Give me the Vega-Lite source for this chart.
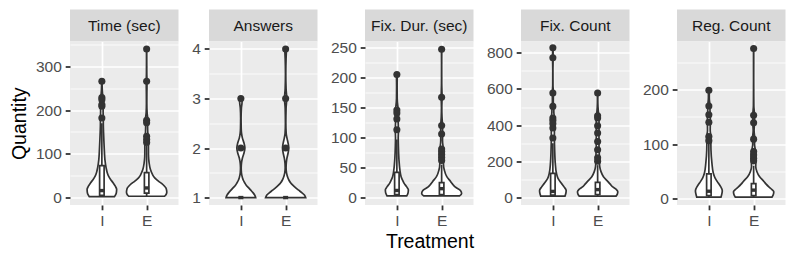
{
"$schema": "https://vega.github.io/schema/vega-lite/v6.json",
"padding": {"left": 9, "top": 9.5, "right": 5, "bottom": 5},
"background": "#FFFFFF",
"spacing": 12,
"align": "none",
"datasets": {
"vio": [
{"panel":"time","trt":"I","value":2,"left":0.72,"right":1.28},
{"panel":"time","trt":"I","value":6,"left":0.695,"right":1.305},
{"panel":"time","trt":"I","value":12,"left":0.675,"right":1.325},
{"panel":"time","trt":"I","value":19,"left":0.67,"right":1.33},
{"panel":"time","trt":"I","value":26,"left":0.70,"right":1.30},
{"panel":"time","trt":"I","value":34,"left":0.75,"right":1.25},
{"panel":"time","trt":"I","value":41.5,"left":0.805,"right":1.195},
{"panel":"time","trt":"I","value":49,"left":0.85,"right":1.15},
{"panel":"time","trt":"I","value":57,"left":0.88,"right":1.12},
{"panel":"time","trt":"I","value":68,"left":0.905,"right":1.095},
{"panel":"time","trt":"I","value":87,"left":0.932,"right":1.068},
{"panel":"time","trt":"I","value":110,"left":0.946,"right":1.054},
{"panel":"time","trt":"I","value":130,"left":0.955,"right":1.045},
{"panel":"time","trt":"I","value":150,"left":0.963,"right":1.037},
{"panel":"time","trt":"I","value":170,"left":0.968,"right":1.032},
{"panel":"time","trt":"I","value":182,"left":0.967,"right":1.033},
{"panel":"time","trt":"I","value":195,"left":0.972,"right":1.028},
{"panel":"time","trt":"I","value":210,"left":0.97,"right":1.03},
{"panel":"time","trt":"I","value":222,"left":0.97,"right":1.03},
{"panel":"time","trt":"I","value":230,"left":0.978,"right":1.022},
{"panel":"time","trt":"I","value":245,"left":0.99,"right":1.01},
{"panel":"time","trt":"I","value":256,"left":0.994,"right":1.006},
{"panel":"time","trt":"I","value":266,"left":0.995,"right":1.005},
{"panel":"time","trt":"E","value":3,"left":1.60,"right":2.40},
{"panel":"time","trt":"E","value":7,"left":1.565,"right":2.435},
{"panel":"time","trt":"E","value":12,"left":1.55,"right":2.45},
{"panel":"time","trt":"E","value":17,"left":1.555,"right":2.445},
{"panel":"time","trt":"E","value":22,"left":1.57,"right":2.43},
{"panel":"time","trt":"E","value":27,"left":1.61,"right":2.39},
{"panel":"time","trt":"E","value":32,"left":1.66,"right":2.34},
{"panel":"time","trt":"E","value":37,"left":1.73,"right":2.27},
{"panel":"time","trt":"E","value":42,"left":1.79,"right":2.21},
{"panel":"time","trt":"E","value":47,"left":1.835,"right":2.165},
{"panel":"time","trt":"E","value":53,"left":1.87,"right":2.13},
{"panel":"time","trt":"E","value":64,"left":1.915,"right":2.085},
{"panel":"time","trt":"E","value":79,"left":1.944,"right":2.056},
{"panel":"time","trt":"E","value":94,"left":1.958,"right":2.042},
{"panel":"time","trt":"E","value":110,"left":1.96,"right":2.04},
{"panel":"time","trt":"E","value":122,"left":1.96,"right":2.04},
{"panel":"time","trt":"E","value":130,"left":1.958,"right":2.042},
{"panel":"time","trt":"E","value":138,"left":1.962,"right":2.038},
{"panel":"time","trt":"E","value":150,"left":1.975,"right":2.025},
{"panel":"time","trt":"E","value":162,"left":1.978,"right":2.022},
{"panel":"time","trt":"E","value":172,"left":1.97,"right":2.03},
{"panel":"time","trt":"E","value":180,"left":1.974,"right":2.026},
{"panel":"time","trt":"E","value":195,"left":1.99,"right":2.01},
{"panel":"time","trt":"E","value":215,"left":1.995,"right":2.005},
{"panel":"time","trt":"E","value":240,"left":1.994,"right":2.006},
{"panel":"time","trt":"E","value":255,"left":1.992,"right":2.008},
{"panel":"time","trt":"E","value":266,"left":1.992,"right":2.008},
{"panel":"time","trt":"E","value":285,"left":1.996,"right":2.004},
{"panel":"time","trt":"E","value":310,"left":1.997,"right":2.003},
{"panel":"time","trt":"E","value":340,"left":1.997,"right":2.003},
{"panel":"ans","trt":"I","value":1.00,"left":0.67,"right":1.33},
{"panel":"ans","trt":"I","value":1.05,"left":0.69,"right":1.31},
{"panel":"ans","trt":"I","value":1.10,"left":0.73,"right":1.27},
{"panel":"ans","trt":"I","value":1.15,"left":0.78,"right":1.22},
{"panel":"ans","trt":"I","value":1.20,"left":0.83,"right":1.17},
{"panel":"ans","trt":"I","value":1.25,"left":0.88,"right":1.12},
{"panel":"ans","trt":"I","value":1.30,"left":0.915,"right":1.085},
{"panel":"ans","trt":"I","value":1.35,"left":0.945,"right":1.055},
{"panel":"ans","trt":"I","value":1.40,"left":0.965,"right":1.035},
{"panel":"ans","trt":"I","value":1.50,"left":0.987,"right":1.013},
{"panel":"ans","trt":"I","value":1.60,"left":0.992,"right":1.008},
{"panel":"ans","trt":"I","value":1.70,"left":0.985,"right":1.015},
{"panel":"ans","trt":"I","value":1.80,"left":0.965,"right":1.035},
{"panel":"ans","trt":"I","value":1.90,"left":0.93,"right":1.07},
{"panel":"ans","trt":"I","value":2.00,"left":0.91,"right":1.09},
{"panel":"ans","trt":"I","value":2.10,"left":0.93,"right":1.07},
{"panel":"ans","trt":"I","value":2.20,"left":0.965,"right":1.035},
{"panel":"ans","trt":"I","value":2.30,"left":0.985,"right":1.015},
{"panel":"ans","trt":"I","value":2.40,"left":0.992,"right":1.008},
{"panel":"ans","trt":"I","value":2.60,"left":0.995,"right":1.005},
{"panel":"ans","trt":"I","value":2.80,"left":0.988,"right":1.012},
{"panel":"ans","trt":"I","value":2.90,"left":0.975,"right":1.025},
{"panel":"ans","trt":"I","value":3.00,"left":0.97,"right":1.03},
{"panel":"ans","trt":"E","value":1.00,"left":1.553,"right":2.447},
{"panel":"ans","trt":"E","value":1.05,"left":1.58,"right":2.42},
{"panel":"ans","trt":"E","value":1.10,"left":1.64,"right":2.36},
{"panel":"ans","trt":"E","value":1.15,"left":1.71,"right":2.29},
{"panel":"ans","trt":"E","value":1.20,"left":1.78,"right":2.22},
{"panel":"ans","trt":"E","value":1.25,"left":1.84,"right":2.16},
{"panel":"ans","trt":"E","value":1.30,"left":1.89,"right":2.11},
{"panel":"ans","trt":"E","value":1.35,"left":1.925,"right":2.075},
{"panel":"ans","trt":"E","value":1.40,"left":1.95,"right":2.05},
{"panel":"ans","trt":"E","value":1.50,"left":1.98,"right":2.02},
{"panel":"ans","trt":"E","value":1.60,"left":1.99,"right":2.01},
{"panel":"ans","trt":"E","value":1.70,"left":1.985,"right":2.015},
{"panel":"ans","trt":"E","value":1.80,"left":1.97,"right":2.03},
{"panel":"ans","trt":"E","value":1.90,"left":1.945,"right":2.055},
{"panel":"ans","trt":"E","value":2.00,"left":1.93,"right":2.07},
{"panel":"ans","trt":"E","value":2.10,"left":1.945,"right":2.055},
{"panel":"ans","trt":"E","value":2.20,"left":1.97,"right":2.03},
{"panel":"ans","trt":"E","value":2.30,"left":1.988,"right":2.012},
{"panel":"ans","trt":"E","value":2.50,"left":1.995,"right":2.005},
{"panel":"ans","trt":"E","value":2.80,"left":1.99,"right":2.01},
{"panel":"ans","trt":"E","value":3.00,"left":1.975,"right":2.025},
{"panel":"ans","trt":"E","value":3.20,"left":1.99,"right":2.01},
{"panel":"ans","trt":"E","value":3.50,"left":1.996,"right":2.004},
{"panel":"ans","trt":"E","value":3.80,"left":1.99,"right":2.01},
{"panel":"ans","trt":"E","value":4.00,"left":1.98,"right":2.02},
{"panel":"fdur","trt":"I","value":3,"left":0.78,"right":1.22},
{"panel":"fdur","trt":"I","value":8,"left":0.75,"right":1.25},
{"panel":"fdur","trt":"I","value":13,"left":0.743,"right":1.257},
{"panel":"fdur","trt":"I","value":18,"left":0.78,"right":1.22},
{"panel":"fdur","trt":"I","value":23,"left":0.83,"right":1.17},
{"panel":"fdur","trt":"I","value":28,"left":0.865,"right":1.135},
{"panel":"fdur","trt":"I","value":35,"left":0.905,"right":1.095},
{"panel":"fdur","trt":"I","value":46,"left":0.932,"right":1.068},
{"panel":"fdur","trt":"I","value":63,"left":0.953,"right":1.047},
{"panel":"fdur","trt":"I","value":85,"left":0.966,"right":1.034},
{"panel":"fdur","trt":"I","value":100,"left":0.97,"right":1.03},
{"panel":"fdur","trt":"I","value":112,"left":0.965,"right":1.035},
{"panel":"fdur","trt":"I","value":125,"left":0.97,"right":1.03},
{"panel":"fdur","trt":"I","value":132,"left":0.965,"right":1.035},
{"panel":"fdur","trt":"I","value":142,"left":0.962,"right":1.038},
{"panel":"fdur","trt":"I","value":150,"left":0.975,"right":1.025},
{"panel":"fdur","trt":"I","value":165,"left":0.992,"right":1.008},
{"panel":"fdur","trt":"I","value":185,"left":0.994,"right":1.006},
{"panel":"fdur","trt":"I","value":198,"left":0.992,"right":1.008},
{"panel":"fdur","trt":"I","value":205,"left":0.99,"right":1.01},
{"panel":"fdur","trt":"E","value":3,"left":1.60,"right":2.40},
{"panel":"fdur","trt":"E","value":7,"left":1.554,"right":2.446},
{"panel":"fdur","trt":"E","value":12,"left":1.58,"right":2.42},
{"panel":"fdur","trt":"E","value":18,"left":1.70,"right":2.30},
{"panel":"fdur","trt":"E","value":23,"left":1.76,"right":2.24},
{"panel":"fdur","trt":"E","value":27,"left":1.80,"right":2.20},
{"panel":"fdur","trt":"E","value":35,"left":1.885,"right":2.115},
{"panel":"fdur","trt":"E","value":46,"left":1.94,"right":2.06},
{"panel":"fdur","trt":"E","value":57,"left":1.96,"right":2.04},
{"panel":"fdur","trt":"E","value":65,"left":1.955,"right":2.045},
{"panel":"fdur","trt":"E","value":72,"left":1.952,"right":2.048},
{"panel":"fdur","trt":"E","value":80,"left":1.96,"right":2.04},
{"panel":"fdur","trt":"E","value":95,"left":1.98,"right":2.02},
{"panel":"fdur","trt":"E","value":106,"left":1.978,"right":2.022},
{"panel":"fdur","trt":"E","value":120,"left":1.98,"right":2.02},
{"panel":"fdur","trt":"E","value":135,"left":1.992,"right":2.008},
{"panel":"fdur","trt":"E","value":150,"left":1.996,"right":2.004},
{"panel":"fdur","trt":"E","value":167,"left":1.99,"right":2.01},
{"panel":"fdur","trt":"E","value":190,"left":1.997,"right":2.003},
{"panel":"fdur","trt":"E","value":220,"left":1.998,"right":2.002},
{"panel":"fdur","trt":"E","value":247,"left":1.996,"right":2.004},
{"panel":"fcnt","trt":"I","value":9,"left":0.73,"right":1.27},
{"panel":"fcnt","trt":"I","value":25,"left":0.71,"right":1.29},
{"panel":"fcnt","trt":"I","value":40,"left":0.703,"right":1.297},
{"panel":"fcnt","trt":"I","value":60,"left":0.75,"right":1.25},
{"panel":"fcnt","trt":"I","value":80,"left":0.81,"right":1.19},
{"panel":"fcnt","trt":"I","value":107,"left":0.885,"right":1.115},
{"panel":"fcnt","trt":"I","value":135,"left":0.92,"right":1.08},
{"panel":"fcnt","trt":"I","value":190,"left":0.946,"right":1.054},
{"panel":"fcnt","trt":"I","value":264,"left":0.96,"right":1.04},
{"panel":"fcnt","trt":"I","value":338,"left":0.966,"right":1.034},
{"panel":"fcnt","trt":"I","value":385,"left":0.964,"right":1.036},
{"panel":"fcnt","trt":"I","value":410,"left":0.96,"right":1.04},
{"panel":"fcnt","trt":"I","value":430,"left":0.958,"right":1.042},
{"panel":"fcnt","trt":"I","value":445,"left":0.965,"right":1.035},
{"panel":"fcnt","trt":"I","value":470,"left":0.978,"right":1.022},
{"panel":"fcnt","trt":"I","value":504,"left":0.98,"right":1.02},
{"panel":"fcnt","trt":"I","value":530,"left":0.99,"right":1.01},
{"panel":"fcnt","trt":"I","value":578,"left":0.988,"right":1.012},
{"panel":"fcnt","trt":"I","value":620,"left":0.997,"right":1.003},
{"panel":"fcnt","trt":"I","value":700,"left":0.998,"right":1.002},
{"panel":"fcnt","trt":"I","value":772,"left":0.994,"right":1.006},
{"panel":"fcnt","trt":"I","value":800,"left":0.995,"right":1.005},
{"panel":"fcnt","trt":"I","value":828,"left":0.995,"right":1.005},
{"panel":"fcnt","trt":"E","value":9,"left":1.59,"right":2.41},
{"panel":"fcnt","trt":"E","value":20,"left":1.56,"right":2.44},
{"panel":"fcnt","trt":"E","value":33,"left":1.55,"right":2.45},
{"panel":"fcnt","trt":"E","value":45,"left":1.58,"right":2.42},
{"panel":"fcnt","trt":"E","value":61,"left":1.67,"right":2.33},
{"panel":"fcnt","trt":"E","value":75,"left":1.72,"right":2.28},
{"panel":"fcnt","trt":"E","value":89,"left":1.77,"right":2.23},
{"panel":"fcnt","trt":"E","value":116,"left":1.87,"right":2.13},
{"panel":"fcnt","trt":"E","value":144,"left":1.925,"right":2.075},
{"panel":"fcnt","trt":"E","value":172,"left":1.953,"right":2.047},
{"panel":"fcnt","trt":"E","value":200,"left":1.96,"right":2.04},
{"panel":"fcnt","trt":"E","value":220,"left":1.96,"right":2.04},
{"panel":"fcnt","trt":"E","value":265,"left":1.968,"right":2.032},
{"panel":"fcnt","trt":"E","value":310,"left":1.97,"right":2.03},
{"panel":"fcnt","trt":"E","value":357,"left":1.97,"right":2.03},
{"panel":"fcnt","trt":"E","value":397,"left":1.968,"right":2.032},
{"panel":"fcnt","trt":"E","value":440,"left":1.97,"right":2.03},
{"panel":"fcnt","trt":"E","value":452,"left":1.975,"right":2.025},
{"panel":"fcnt","trt":"E","value":500,"left":1.992,"right":2.008},
{"panel":"fcnt","trt":"E","value":540,"left":1.996,"right":2.004},
{"panel":"fcnt","trt":"E","value":578,"left":1.995,"right":2.005},
{"panel":"reg","trt":"I","value":2,"left":0.73,"right":1.27},
{"panel":"reg","trt":"I","value":8,"left":0.71,"right":1.29},
{"panel":"reg","trt":"I","value":14,"left":0.70,"right":1.30},
{"panel":"reg","trt":"I","value":22,"left":0.74,"right":1.26},
{"panel":"reg","trt":"I","value":28,"left":0.79,"right":1.21},
{"panel":"reg","trt":"I","value":37,"left":0.86,"right":1.14},
{"panel":"reg","trt":"I","value":46,"left":0.90,"right":1.10},
{"panel":"reg","trt":"I","value":65,"left":0.932,"right":1.068},
{"panel":"reg","trt":"I","value":89,"left":0.953,"right":1.047},
{"panel":"reg","trt":"I","value":100,"left":0.955,"right":1.045},
{"panel":"reg","trt":"I","value":106,"left":0.95,"right":1.05},
{"panel":"reg","trt":"I","value":112,"left":0.95,"right":1.05},
{"panel":"reg","trt":"I","value":125,"left":0.97,"right":1.03},
{"panel":"reg","trt":"I","value":140,"left":0.968,"right":1.032},
{"panel":"reg","trt":"I","value":154,"left":0.968,"right":1.032},
{"panel":"reg","trt":"I","value":162,"left":0.975,"right":1.025},
{"panel":"reg","trt":"I","value":170,"left":0.975,"right":1.025},
{"panel":"reg","trt":"I","value":185,"left":0.99,"right":1.01},
{"panel":"reg","trt":"I","value":199,"left":0.99,"right":1.01},
{"panel":"reg","trt":"E","value":2,"left":1.59,"right":2.41},
{"panel":"reg","trt":"E","value":7,"left":1.56,"right":2.44},
{"panel":"reg","trt":"E","value":12,"left":1.55,"right":2.45},
{"panel":"reg","trt":"E","value":16,"left":1.59,"right":2.41},
{"panel":"reg","trt":"E","value":21,"left":1.66,"right":2.34},
{"panel":"reg","trt":"E","value":26,"left":1.72,"right":2.28},
{"panel":"reg","trt":"E","value":31,"left":1.77,"right":2.23},
{"panel":"reg","trt":"E","value":40,"left":1.87,"right":2.13},
{"panel":"reg","trt":"E","value":49,"left":1.926,"right":2.074},
{"panel":"reg","trt":"E","value":58,"left":1.953,"right":2.047},
{"panel":"reg","trt":"E","value":68,"left":1.95,"right":2.05},
{"panel":"reg","trt":"E","value":78,"left":1.945,"right":2.055},
{"panel":"reg","trt":"E","value":88,"left":1.96,"right":2.04},
{"panel":"reg","trt":"E","value":100,"left":1.98,"right":2.02},
{"panel":"reg","trt":"E","value":110,"left":1.975,"right":2.025},
{"panel":"reg","trt":"E","value":125,"left":1.99,"right":2.01},
{"panel":"reg","trt":"E","value":140,"left":1.98,"right":2.02},
{"panel":"reg","trt":"E","value":153,"left":1.98,"right":2.02},
{"panel":"reg","trt":"E","value":170,"left":1.995,"right":2.005},
{"panel":"reg","trt":"E","value":220,"left":1.998,"right":2.002},
{"panel":"reg","trt":"E","value":276,"left":1.997,"right":2.003}
],
"box": [
{"panel":"time","pos":1,"q1":5,"med":16,"q3":73,"lo":2,"hi":170},
{"panel":"time","pos":2,"q1":10,"med":22,"q3":57,"lo":3,"hi":118},
{"panel":"ans","pos":1,"q1":1,"med":1,"q3":1,"lo":1,"hi":1},
{"panel":"ans","pos":2,"q1":1,"med":1,"q3":1,"lo":1,"hi":1},
{"panel":"fdur","pos":1,"q1":5,"med":12,"q3":42,"lo":3,"hi":97},
{"panel":"fdur","pos":2,"q1":5,"med":15,"q3":25,"lo":3,"hi":55},
{"panel":"fcnt","pos":1,"q1":14,"med":35,"q3":135,"lo":9,"hi":300},
{"panel":"fcnt","pos":2,"q1":18,"med":45,"q3":85,"lo":9,"hi":180},
{"panel":"reg","pos":1,"q1":5,"med":13,"q3":45,"lo":2,"hi":100},
{"panel":"reg","pos":2,"q1":5,"med":15,"q3":27,"lo":2,"hi":60}
],
"out": [
{"panel":"time","pos":1,"value":266},{"panel":"time","pos":1,"value":229},{"panel":"time","pos":1,"value":224},{"panel":"time","pos":1,"value":213},{"panel":"time","pos":1,"value":209},{"panel":"time","pos":1,"value":182},
{"panel":"time","pos":2,"value":340},{"panel":"time","pos":2,"value":266},{"panel":"time","pos":2,"value":177},{"panel":"time","pos":2,"value":171},{"panel":"time","pos":2,"value":140},{"panel":"time","pos":2,"value":133},{"panel":"time","pos":2,"value":126},
{"panel":"ans","pos":1,"value":2},{"panel":"ans","pos":1,"value":3},
{"panel":"ans","pos":2,"value":2},{"panel":"ans","pos":2,"value":3},{"panel":"ans","pos":2,"value":4},
{"panel":"fdur","pos":1,"value":205},{"panel":"fdur","pos":1,"value":146},{"panel":"fdur","pos":1,"value":141},{"panel":"fdur","pos":1,"value":131},{"panel":"fdur","pos":1,"value":113},
{"panel":"fdur","pos":2,"value":247},{"panel":"fdur","pos":2,"value":167},{"panel":"fdur","pos":2,"value":120},{"panel":"fdur","pos":2,"value":106},{"panel":"fdur","pos":2,"value":81},{"panel":"fdur","pos":2,"value":77},{"panel":"fdur","pos":2,"value":72},{"panel":"fdur","pos":2,"value":67},{"panel":"fdur","pos":2,"value":62},
{"panel":"fcnt","pos":1,"value":828},{"panel":"fcnt","pos":1,"value":772},{"panel":"fcnt","pos":1,"value":578},{"panel":"fcnt","pos":1,"value":504},{"panel":"fcnt","pos":1,"value":440},{"panel":"fcnt","pos":1,"value":426},{"panel":"fcnt","pos":1,"value":408},{"panel":"fcnt","pos":1,"value":385},{"panel":"fcnt","pos":1,"value":330},
{"panel":"fcnt","pos":2,"value":578},{"panel":"fcnt","pos":2,"value":452},{"panel":"fcnt","pos":2,"value":440},{"panel":"fcnt","pos":2,"value":397},{"panel":"fcnt","pos":2,"value":357},{"panel":"fcnt","pos":2,"value":310},{"panel":"fcnt","pos":2,"value":265},{"panel":"fcnt","pos":2,"value":220},{"panel":"fcnt","pos":2,"value":202},
{"panel":"reg","pos":1,"value":199},{"panel":"reg","pos":1,"value":170},{"panel":"reg","pos":1,"value":154},{"panel":"reg","pos":1,"value":140},{"panel":"reg","pos":1,"value":114},{"panel":"reg","pos":1,"value":106},
{"panel":"reg","pos":2,"value":276},{"panel":"reg","pos":2,"value":153},{"panel":"reg","pos":2,"value":139},{"panel":"reg","pos":2,"value":109},{"panel":"reg","pos":2,"value":86},{"panel":"reg","pos":2,"value":80},{"panel":"reg","pos":2,"value":74},{"panel":"reg","pos":2,"value":69}
]
},
"hconcat": [
{"spacing": 0, "bounds": "flush", "vconcat": [
 {"width": 108.5, "height": 32, "view": {"fill": "#D9D9D9", "stroke": null}, "data": {"values": [{"label": "Time (sec)"}]}, "mark": {"type": "text", "font": "Liberation Sans", "fontSize": 15.5, "color": "#1A1A1A"}, "encoding": {"text": {"field": "label", "type": "nominal"}}},
 {"width": 108.5, "height": 163.5, "layer": [
  {"data": {"name": "vio"}, "transform": [{"filter": "datum.panel === 'time'"}], "mark": {"type": "area", "orient": "horizontal", "interpolate": "monotone", "fill": "#FFFFFF", "stroke": "#333333", "strokeWidth": 1.7, "opacity": 1},
   "encoding": {"y": {"field": "value", "type": "quantitative", "scale": {"domain": [-17, 357], "nice": false, "zero": false}, "axis": {"title": "Quantity", "titlePadding": 6, "tickCount": 100, "labelOverlap": false, "values": [0,50,100,150,200,250,300,350], "labelExpr": "datum.value % 100 === 0 ? format(datum.value, 'd') : ''", "tickOpacity": {"condition": {"test": "datum.value % 100 === 0", "value": 1}, "value": 0}, "gridWidth": {"condition": {"test": "datum.value % 100 === 0", "value": 1.7}, "value": 0.85}}},
    "x": {"field": "left", "type": "quantitative", "scale": {"domain": [0.4, 2.6], "nice": false, "zero": false}, "axis": {"title": null, "labelOverlap": false, "values": [1, 2], "labelExpr": "datum.value === 1 ? 'I' : 'E'", "gridWidth": 1.7}},
    "x2": {"field": "right"}, "detail": {"field": "trt"}}},
  {"data": {"name": "box"}, "transform": [{"filter": "datum.panel === 'time'"}], "mark": {"type": "rule", "color": "#333333", "strokeWidth": 1.7},
   "encoding": {"x": {"field": "pos", "type": "quantitative", "scale": {"domain": [0.4, 2.6], "nice": false, "zero": false}}, "y": {"field": "q3", "type": "quantitative", "scale": {"domain": [-17, 357], "nice": false, "zero": false}}, "y2": {"field": "hi"}}},
  {"data": {"name": "box"}, "transform": [{"filter": "datum.panel === 'time'"}], "mark": {"type": "rule", "color": "#333333", "strokeWidth": 1.7},
   "encoding": {"x": {"field": "pos", "type": "quantitative", "scale": {"domain": [0.4, 2.6], "nice": false, "zero": false}}, "y": {"field": "lo", "type": "quantitative", "scale": {"domain": [-17, 357], "nice": false, "zero": false}}, "y2": {"field": "q1"}}},
  {"data": {"name": "box"}, "transform": [{"filter": "datum.panel === 'time'"}], "mark": {"type": "bar", "width": 4.5, "fill": "#FFFFFF", "stroke": "#333333", "strokeWidth": 1.7},
   "encoding": {"x": {"field": "pos", "type": "quantitative", "scale": {"domain": [0.4, 2.6], "nice": false, "zero": false}}, "y": {"field": "q1", "type": "quantitative", "scale": {"domain": [-17, 357], "nice": false, "zero": false}}, "y2": {"field": "q3"}}},
  {"data": {"name": "box"}, "transform": [{"filter": "datum.panel === 'time'"}], "mark": {"type": "tick", "orient": "horizontal", "size": 5, "thickness": 3.4, "color": "#333333", "opacity": 1},
   "encoding": {"x": {"field": "pos", "type": "quantitative", "scale": {"domain": [0.4, 2.6], "nice": false, "zero": false}}, "y": {"field": "med", "type": "quantitative", "scale": {"domain": [-17, 357], "nice": false, "zero": false}}}},
  {"data": {"name": "out"}, "transform": [{"filter": "datum.panel === 'time'"}], "mark": {"type": "point", "filled": true, "color": "#333333", "size": 50, "opacity": 1, "strokeWidth": 0},
   "encoding": {"x": {"field": "pos", "type": "quantitative", "scale": {"domain": [0.4, 2.6], "nice": false, "zero": false}}, "y": {"field": "value", "type": "quantitative", "scale": {"domain": [-17, 357], "nice": false, "zero": false}}}}
 ]}
]},
{"spacing": 0, "bounds": "flush", "vconcat": [
 {"width": 108.5, "height": 32, "view": {"fill": "#D9D9D9", "stroke": null}, "data": {"values": [{"label": "Answers"}]}, "mark": {"type": "text", "font": "Liberation Sans", "fontSize": 15.5, "color": "#1A1A1A"}, "encoding": {"text": {"field": "label", "type": "nominal"}}},
 {"width": 108.5, "height": 163.5, "layer": [
  {"data": {"name": "vio"}, "transform": [{"filter": "datum.panel === 'ans'"}], "mark": {"type": "area", "orient": "horizontal", "interpolate": "monotone", "fill": "#FFFFFF", "stroke": "#333333", "strokeWidth": 1.7, "opacity": 1},
   "encoding": {"y": {"field": "value", "type": "quantitative", "scale": {"domain": [0.85, 4.15], "nice": false, "zero": false}, "axis": {"title": null, "tickCount": 100, "labelOverlap": false, "values": [1,1.5,2,2.5,3,3.5,4], "labelExpr": "datum.value % 1 === 0 ? format(datum.value, 'd') : ''", "tickOpacity": {"condition": {"test": "datum.value % 1 === 0", "value": 1}, "value": 0}, "gridWidth": {"condition": {"test": "datum.value % 1 === 0", "value": 1.7}, "value": 0.85}}},
    "x": {"field": "left", "type": "quantitative", "scale": {"domain": [0.4, 2.6], "nice": false, "zero": false}, "axis": {"title": null, "labelOverlap": false, "values": [1, 2], "labelExpr": "datum.value === 1 ? 'I' : 'E'", "gridWidth": 1.7}},
    "x2": {"field": "right"}, "detail": {"field": "trt"}}},
  {"data": {"name": "box"}, "transform": [{"filter": "datum.panel === 'ans'"}], "mark": {"type": "bar", "width": 4.5, "fill": "#FFFFFF", "stroke": "#333333", "strokeWidth": 1.7},
   "encoding": {"x": {"field": "pos", "type": "quantitative", "scale": {"domain": [0.4, 2.6], "nice": false, "zero": false}}, "y": {"field": "q1", "type": "quantitative", "scale": {"domain": [0.85, 4.15], "nice": false, "zero": false}}, "y2": {"field": "q3"}}},
  {"data": {"name": "box"}, "transform": [{"filter": "datum.panel === 'ans'"}], "mark": {"type": "tick", "orient": "horizontal", "size": 5, "thickness": 3.4, "color": "#333333", "opacity": 1},
   "encoding": {"x": {"field": "pos", "type": "quantitative", "scale": {"domain": [0.4, 2.6], "nice": false, "zero": false}}, "y": {"field": "med", "type": "quantitative", "scale": {"domain": [0.85, 4.15], "nice": false, "zero": false}}}},
  {"data": {"name": "out"}, "transform": [{"filter": "datum.panel === 'ans'"}], "mark": {"type": "point", "filled": true, "color": "#333333", "size": 50, "opacity": 1, "strokeWidth": 0},
   "encoding": {"x": {"field": "pos", "type": "quantitative", "scale": {"domain": [0.4, 2.6], "nice": false, "zero": false}}, "y": {"field": "value", "type": "quantitative", "scale": {"domain": [0.85, 4.15], "nice": false, "zero": false}}}}
 ]}
]},
{"spacing": 0, "bounds": "flush", "vconcat": [
 {"width": 108.5, "height": 32, "view": {"fill": "#D9D9D9", "stroke": null}, "data": {"values": [{"label": "Fix. Dur. (sec)"}]}, "mark": {"type": "text", "font": "Liberation Sans", "fontSize": 15.5, "color": "#1A1A1A"}, "encoding": {"text": {"field": "label", "type": "nominal"}}},
 {"width": 108.5, "height": 163.5, "layer": [
  {"data": {"name": "vio"}, "transform": [{"filter": "datum.panel === 'fdur'"}], "mark": {"type": "area", "orient": "horizontal", "interpolate": "monotone", "fill": "#FFFFFF", "stroke": "#333333", "strokeWidth": 1.7, "opacity": 1},
   "encoding": {"y": {"field": "value", "type": "quantitative", "scale": {"domain": [-12.2, 260], "nice": false, "zero": false}, "axis": {"title": null, "tickCount": 100, "labelOverlap": false, "values": [0,25,50,75,100,125,150,175,200,225,250], "labelExpr": "datum.value % 50 === 0 ? format(datum.value, 'd') : ''", "tickOpacity": {"condition": {"test": "datum.value % 50 === 0", "value": 1}, "value": 0}, "gridWidth": {"condition": {"test": "datum.value % 50 === 0", "value": 1.7}, "value": 0.85}}},
    "x": {"field": "left", "type": "quantitative", "scale": {"domain": [0.4, 2.6], "nice": false, "zero": false}, "axis": {"title": "Treatment", "titleX": 64.5, "titlePadding": 3, "labelOverlap": false, "values": [1, 2], "labelExpr": "datum.value === 1 ? 'I' : 'E'", "gridWidth": 1.7}},
    "x2": {"field": "right"}, "detail": {"field": "trt"}}},
  {"data": {"name": "box"}, "transform": [{"filter": "datum.panel === 'fdur'"}], "mark": {"type": "rule", "color": "#333333", "strokeWidth": 1.7},
   "encoding": {"x": {"field": "pos", "type": "quantitative", "scale": {"domain": [0.4, 2.6], "nice": false, "zero": false}}, "y": {"field": "q3", "type": "quantitative", "scale": {"domain": [-12.2, 260], "nice": false, "zero": false}}, "y2": {"field": "hi"}}},
  {"data": {"name": "box"}, "transform": [{"filter": "datum.panel === 'fdur'"}], "mark": {"type": "rule", "color": "#333333", "strokeWidth": 1.7},
   "encoding": {"x": {"field": "pos", "type": "quantitative", "scale": {"domain": [0.4, 2.6], "nice": false, "zero": false}}, "y": {"field": "lo", "type": "quantitative", "scale": {"domain": [-12.2, 260], "nice": false, "zero": false}}, "y2": {"field": "q1"}}},
  {"data": {"name": "box"}, "transform": [{"filter": "datum.panel === 'fdur'"}], "mark": {"type": "bar", "width": 4.5, "fill": "#FFFFFF", "stroke": "#333333", "strokeWidth": 1.7},
   "encoding": {"x": {"field": "pos", "type": "quantitative", "scale": {"domain": [0.4, 2.6], "nice": false, "zero": false}}, "y": {"field": "q1", "type": "quantitative", "scale": {"domain": [-12.2, 260], "nice": false, "zero": false}}, "y2": {"field": "q3"}}},
  {"data": {"name": "box"}, "transform": [{"filter": "datum.panel === 'fdur'"}], "mark": {"type": "tick", "orient": "horizontal", "size": 5, "thickness": 3.4, "color": "#333333", "opacity": 1},
   "encoding": {"x": {"field": "pos", "type": "quantitative", "scale": {"domain": [0.4, 2.6], "nice": false, "zero": false}}, "y": {"field": "med", "type": "quantitative", "scale": {"domain": [-12.2, 260], "nice": false, "zero": false}}}},
  {"data": {"name": "out"}, "transform": [{"filter": "datum.panel === 'fdur'"}], "mark": {"type": "point", "filled": true, "color": "#333333", "size": 50, "opacity": 1, "strokeWidth": 0},
   "encoding": {"x": {"field": "pos", "type": "quantitative", "scale": {"domain": [0.4, 2.6], "nice": false, "zero": false}}, "y": {"field": "value", "type": "quantitative", "scale": {"domain": [-12.2, 260], "nice": false, "zero": false}}}}
 ]}
]},
{"spacing": 0, "bounds": "flush", "vconcat": [
 {"width": 108.5, "height": 32, "view": {"fill": "#D9D9D9", "stroke": null}, "data": {"values": [{"label": "Fix. Count"}]}, "mark": {"type": "text", "font": "Liberation Sans", "fontSize": 15.5, "color": "#1A1A1A"}, "encoding": {"text": {"field": "label", "type": "nominal"}}},
 {"width": 108.5, "height": 163.5, "layer": [
  {"data": {"name": "vio"}, "transform": [{"filter": "datum.panel === 'fcnt'"}], "mark": {"type": "area", "orient": "horizontal", "interpolate": "monotone", "fill": "#FFFFFF", "stroke": "#333333", "strokeWidth": 1.7, "opacity": 1},
   "encoding": {"y": {"field": "value", "type": "quantitative", "scale": {"domain": [-40, 862], "nice": false, "zero": false}, "axis": {"title": null, "tickCount": 100, "labelOverlap": false, "values": [0,100,200,300,400,500,600,700,800], "labelExpr": "datum.value % 200 === 0 ? format(datum.value, 'd') : ''", "tickOpacity": {"condition": {"test": "datum.value % 200 === 0", "value": 1}, "value": 0}, "gridWidth": {"condition": {"test": "datum.value % 200 === 0", "value": 1.7}, "value": 0.85}}},
    "x": {"field": "left", "type": "quantitative", "scale": {"domain": [0.4, 2.6], "nice": false, "zero": false}, "axis": {"title": null, "labelOverlap": false, "values": [1, 2], "labelExpr": "datum.value === 1 ? 'I' : 'E'", "gridWidth": 1.7}},
    "x2": {"field": "right"}, "detail": {"field": "trt"}}},
  {"data": {"name": "box"}, "transform": [{"filter": "datum.panel === 'fcnt'"}], "mark": {"type": "rule", "color": "#333333", "strokeWidth": 1.7},
   "encoding": {"x": {"field": "pos", "type": "quantitative", "scale": {"domain": [0.4, 2.6], "nice": false, "zero": false}}, "y": {"field": "q3", "type": "quantitative", "scale": {"domain": [-40, 862], "nice": false, "zero": false}}, "y2": {"field": "hi"}}},
  {"data": {"name": "box"}, "transform": [{"filter": "datum.panel === 'fcnt'"}], "mark": {"type": "rule", "color": "#333333", "strokeWidth": 1.7},
   "encoding": {"x": {"field": "pos", "type": "quantitative", "scale": {"domain": [0.4, 2.6], "nice": false, "zero": false}}, "y": {"field": "lo", "type": "quantitative", "scale": {"domain": [-40, 862], "nice": false, "zero": false}}, "y2": {"field": "q1"}}},
  {"data": {"name": "box"}, "transform": [{"filter": "datum.panel === 'fcnt'"}], "mark": {"type": "bar", "width": 4.5, "fill": "#FFFFFF", "stroke": "#333333", "strokeWidth": 1.7},
   "encoding": {"x": {"field": "pos", "type": "quantitative", "scale": {"domain": [0.4, 2.6], "nice": false, "zero": false}}, "y": {"field": "q1", "type": "quantitative", "scale": {"domain": [-40, 862], "nice": false, "zero": false}}, "y2": {"field": "q3"}}},
  {"data": {"name": "box"}, "transform": [{"filter": "datum.panel === 'fcnt'"}], "mark": {"type": "tick", "orient": "horizontal", "size": 5, "thickness": 3.4, "color": "#333333", "opacity": 1},
   "encoding": {"x": {"field": "pos", "type": "quantitative", "scale": {"domain": [0.4, 2.6], "nice": false, "zero": false}}, "y": {"field": "med", "type": "quantitative", "scale": {"domain": [-40, 862], "nice": false, "zero": false}}}},
  {"data": {"name": "out"}, "transform": [{"filter": "datum.panel === 'fcnt'"}], "mark": {"type": "point", "filled": true, "color": "#333333", "size": 50, "opacity": 1, "strokeWidth": 0},
   "encoding": {"x": {"field": "pos", "type": "quantitative", "scale": {"domain": [0.4, 2.6], "nice": false, "zero": false}}, "y": {"field": "value", "type": "quantitative", "scale": {"domain": [-40, 862], "nice": false, "zero": false}}}}
 ]}
]},
{"spacing": 0, "bounds": "flush", "vconcat": [
 {"width": 108.5, "height": 32, "view": {"fill": "#D9D9D9", "stroke": null}, "data": {"values": [{"label": "Reg. Count"}]}, "mark": {"type": "text", "font": "Liberation Sans", "fontSize": 15.5, "color": "#1A1A1A"}, "encoding": {"text": {"field": "label", "type": "nominal"}}},
 {"width": 108.5, "height": 163.5, "layer": [
  {"data": {"name": "vio"}, "transform": [{"filter": "datum.panel === 'reg'"}], "mark": {"type": "area", "orient": "horizontal", "interpolate": "monotone", "fill": "#FFFFFF", "stroke": "#333333", "strokeWidth": 1.7, "opacity": 1},
   "encoding": {"y": {"field": "value", "type": "quantitative", "scale": {"domain": [-12.4, 289], "nice": false, "zero": false}, "axis": {"title": null, "tickCount": 100, "labelOverlap": false, "values": [0,50,100,150,200,250], "labelExpr": "datum.value % 100 === 0 ? format(datum.value, 'd') : ''", "tickOpacity": {"condition": {"test": "datum.value % 100 === 0", "value": 1}, "value": 0}, "gridWidth": {"condition": {"test": "datum.value % 100 === 0", "value": 1.7}, "value": 0.85}}},
    "x": {"field": "left", "type": "quantitative", "scale": {"domain": [0.4, 2.6], "nice": false, "zero": false}, "axis": {"title": null, "labelOverlap": false, "values": [1, 2], "labelExpr": "datum.value === 1 ? 'I' : 'E'", "gridWidth": 1.7}},
    "x2": {"field": "right"}, "detail": {"field": "trt"}}},
  {"data": {"name": "box"}, "transform": [{"filter": "datum.panel === 'reg'"}], "mark": {"type": "rule", "color": "#333333", "strokeWidth": 1.7},
   "encoding": {"x": {"field": "pos", "type": "quantitative", "scale": {"domain": [0.4, 2.6], "nice": false, "zero": false}}, "y": {"field": "q3", "type": "quantitative", "scale": {"domain": [-12.4, 289], "nice": false, "zero": false}}, "y2": {"field": "hi"}}},
  {"data": {"name": "box"}, "transform": [{"filter": "datum.panel === 'reg'"}], "mark": {"type": "rule", "color": "#333333", "strokeWidth": 1.7},
   "encoding": {"x": {"field": "pos", "type": "quantitative", "scale": {"domain": [0.4, 2.6], "nice": false, "zero": false}}, "y": {"field": "lo", "type": "quantitative", "scale": {"domain": [-12.4, 289], "nice": false, "zero": false}}, "y2": {"field": "q1"}}},
  {"data": {"name": "box"}, "transform": [{"filter": "datum.panel === 'reg'"}], "mark": {"type": "bar", "width": 4.5, "fill": "#FFFFFF", "stroke": "#333333", "strokeWidth": 1.7},
   "encoding": {"x": {"field": "pos", "type": "quantitative", "scale": {"domain": [0.4, 2.6], "nice": false, "zero": false}}, "y": {"field": "q1", "type": "quantitative", "scale": {"domain": [-12.4, 289], "nice": false, "zero": false}}, "y2": {"field": "q3"}}},
  {"data": {"name": "box"}, "transform": [{"filter": "datum.panel === 'reg'"}], "mark": {"type": "tick", "orient": "horizontal", "size": 5, "thickness": 3.4, "color": "#333333", "opacity": 1},
   "encoding": {"x": {"field": "pos", "type": "quantitative", "scale": {"domain": [0.4, 2.6], "nice": false, "zero": false}}, "y": {"field": "med", "type": "quantitative", "scale": {"domain": [-12.4, 289], "nice": false, "zero": false}}}},
  {"data": {"name": "out"}, "transform": [{"filter": "datum.panel === 'reg'"}], "mark": {"type": "point", "filled": true, "color": "#333333", "size": 50, "opacity": 1, "strokeWidth": 0},
   "encoding": {"x": {"field": "pos", "type": "quantitative", "scale": {"domain": [0.4, 2.6], "nice": false, "zero": false}}, "y": {"field": "value", "type": "quantitative", "scale": {"domain": [-12.4, 289], "nice": false, "zero": false}}}}
 ]}
]}
],
"config": {
 "view": {"fill": "#EBEBEB", "stroke": null},
 "axis": {"domain": false, "grid": true, "gridColor": "#FFFFFF", "tickColor": "#333333", "tickSize": 4.8, "tickWidth": 1.8, "labelFont": "Liberation Sans", "labelFontSize": 15.5, "labelColor": "#4D4D4D", "labelPadding": 3.9, "labelOverlap": false, "labelFlush": false, "labelBound": false, "titleFont": "Liberation Sans", "titleFontSize": 19.5, "titleFontWeight": "normal", "titleColor": "#000000"}
}
}
